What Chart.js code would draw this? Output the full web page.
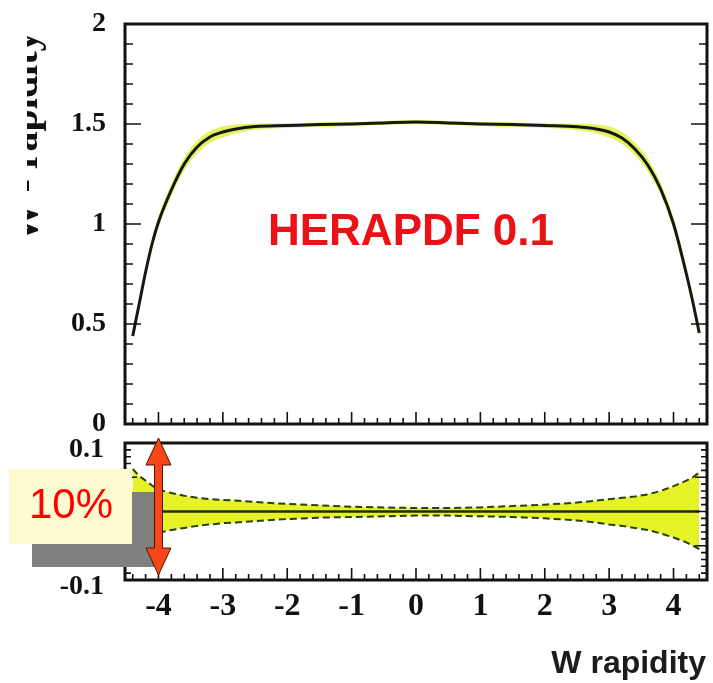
<!DOCTYPE html>
<html>
<head>
<meta charset="utf-8">
<script src="https://cdn.jsdelivr.net/npm/chart.js@4.4.1/dist/chart.umd.min.js"></script>
<style>
  html, body { margin: 0; padding: 0; background: #fff; }
  #wrap { position: relative; width: 713px; height: 683px; background: #fff; overflow: hidden; }
  #wrap canvas { position: absolute; left: 0; top: 0; }
</style>
</head>
<body>
<div id="wrap">
  <canvas id="main" width="713" height="683"></canvas>
  <canvas id="ratio" width="713" height="683"></canvas>
</div>
<script>
// W rapidity grid
const rapidity = [-4.4, -4.3, -4.2, -4.1, -4.0, -3.8, -3.6, -3.4, -3.2, -3.0, -2.8, -2.5, -2.0, -1.5, -1.0, -0.5,
                  0, 0.5, 1.0, 1.5, 2.0, 2.5, 2.8, 3.0, 3.2, 3.4, 3.6, 3.8, 4.0, 4.2, 4.3, 4.4];

// central prediction and its uncertainty band
const wCentral = [0.44, 0.60, 0.76, 0.90, 1.01, 1.17, 1.30, 1.385, 1.435, 1.46, 1.475, 1.487, 1.492, 1.497, 1.50, 1.505,
                  1.51, 1.505, 1.50, 1.497, 1.492, 1.486, 1.475, 1.46, 1.43, 1.375, 1.295, 1.175, 1.00, 0.75, 0.61, 0.455];
const wBandUp  = [0.46, 0.62, 0.782, 0.925, 1.038, 1.20, 1.332, 1.417, 1.465, 1.488, 1.497, 1.503, 1.504, 1.508, 1.51, 1.515,
                  1.52, 1.515, 1.51, 1.508, 1.504, 1.502, 1.497, 1.488, 1.46, 1.407, 1.327, 1.205, 1.028, 0.775, 0.632, 0.475];
const wBandLow = [0.42, 0.58, 0.738, 0.875, 0.982, 1.14, 1.268, 1.353, 1.405, 1.432, 1.453, 1.471, 1.48, 1.486, 1.49, 1.495,
                  1.50, 1.495, 1.49, 1.486, 1.48, 1.47, 1.453, 1.432, 1.40, 1.343, 1.263, 1.145, 0.972, 0.725, 0.588, 0.435];

// fractional uncertainty
const ratioUp  = [0.062, 0.052, 0.045, 0.038, 0.032, 0.027, 0.023, 0.020, 0.018, 0.017, 0.016, 0.014, 0.011, 0.009, 0.007, 0.006,
                  0.005, 0.005, 0.006, 0.008, 0.010, 0.013, 0.016, 0.018, 0.020, 0.022, 0.025, 0.030, 0.037, 0.045, 0.050, 0.057];
const ratioLow = [-0.060, -0.050, -0.043, -0.036, -0.031, -0.027, -0.024, -0.021, -0.019, -0.017, -0.016, -0.014, -0.011, -0.009, -0.008, -0.007,
                  -0.006, -0.006, -0.007, -0.008, -0.010, -0.013, -0.016, -0.019, -0.021, -0.024, -0.027, -0.032, -0.038, -0.045, -0.050, -0.055];
const ratioCentral = [0, 0, 0, 0, 0, 0, 0, 0, 0, 0, 0, 0, 0, 0, 0, 0,
                      0, 0, 0, 0, 0, 0, 0, 0, 0, 0, 0, 0, 0, 0, 0, 0];

// axis ticks
const xTickValues = [-4, -3, -2, -1, 0, 1, 2, 3, 4];
const xTickLabels = ['-4', '-3', '-2', '-1', '0', '1', '2', '3', '4'];
const mainTickValues = [0, 0.5, 1, 1.5, 2];
const mainTickLabels = ['0', '0.5', '1', '1.5', '2'];
const ratioTickValues = [-0.1, -0.05, 0, 0.05, 0.1];
const ratioTickLabels = ['-0.1', '-0.05', '0', '0.05', '0.1'];

const pts = arr => rapidity.map((x, i) => ({ x, y: arr[i] }));

const X_MIN = -4.52, X_MAX = 4.52;
const SERIF = '"Liberation Serif", "DejaVu Serif", serif';
const SANS = '"Liberation Sans", Arial, sans-serif';

// inner tick marks and a heavy frame around the plot area
function framePlugin(yStep, yFrom, yTo, majorEvery, yMajorLen, yMinorLen) {
  return {
    id: 'frame',
    afterDraw(chart) {
      const { ctx, chartArea: a, scales: { x, y } } = chart;
      ctx.save();
      ctx.strokeStyle = '#111';
      ctx.lineWidth = 1.6;
      ctx.beginPath();
      for (let i = -23; i <= 23; i++) {
        const px = x.getPixelForValue(i * 0.2);
        if (px < a.left + 2 || px > a.right - 2) continue;
        const len = (i % 5 === 0) ? 12 : 6;
        ctx.moveTo(px, a.bottom);
        ctx.lineTo(px, a.bottom - len);
      }
      for (let i = yFrom; i <= yTo; i++) {
        const py = y.getPixelForValue(i * yStep);
        if (py < a.top + 2 || py > a.bottom - 2) continue;
        const len = (i % majorEvery === 0) ? yMajorLen : yMinorLen;
        ctx.moveTo(a.left, py); ctx.lineTo(a.left + len, py);
        ctx.moveTo(a.right, py); ctx.lineTo(a.right - len, py);
      }
      ctx.stroke();
      ctx.lineWidth = 3;
      ctx.strokeRect(a.left, a.top, a.right - a.left, a.bottom - a.top);
      ctx.restore();
    }
  };
}

const mainDecor = {
  id: 'mainDecor',
  afterDraw(chart) {
    const { ctx } = chart;
    ctx.save();
    ctx.fillStyle = 'rgb(234,18,22)';
    ctx.font = 'bold 44px ' + SANS;
    ctx.textAlign = 'center';
    ctx.textBaseline = 'alphabetic';
    ctx.fillText('HERAPDF 0.1', 411, 245);
    // vertical axis title, cut off by the left edge
    ctx.beginPath();
    ctx.rect(27, 0, 40, 300);
    ctx.clip();
    ctx.translate(37, 137);
    ctx.rotate(-Math.PI / 2);
    ctx.fillStyle = '#111';
    ctx.font = 'bold 40px ' + SERIF;
    ctx.fillText('W - rapidity', 0, 0);
    ctx.restore();
  }
};

const ratioDecor = {
  id: 'ratioDecor',
  afterDraw(chart) {
    const { ctx, scales: { x } } = chart;
    ctx.save();
    // "10%" note with its drop shadow
    ctx.fillStyle = '#808080';
    ctx.fillRect(32, 492, 123, 75);
    ctx.fillStyle = 'rgb(255,251,208)';
    ctx.fillRect(9, 469, 123, 75);
    ctx.fillStyle = '#ff0000';
    ctx.font = '42px ' + SANS;
    ctx.textAlign = 'center';
    ctx.textBaseline = 'alphabetic';
    ctx.fillText('10%', 71, 518);
    // double-headed arrow spanning the ratio panel
    const cx = x.getPixelForValue(-4);
    const top = 438, bot = 575, hh = 27, hw = 12.5, sw = 4;
    ctx.beginPath();
    ctx.moveTo(cx, top);
    ctx.lineTo(cx + hw, top + hh);
    ctx.lineTo(cx + sw, top + hh);
    ctx.lineTo(cx + sw, bot - hh);
    ctx.lineTo(cx + hw, bot - hh);
    ctx.lineTo(cx, bot);
    ctx.lineTo(cx - hw, bot - hh);
    ctx.lineTo(cx - sw, bot - hh);
    ctx.lineTo(cx - sw, top + hh);
    ctx.lineTo(cx - hw, top + hh);
    ctx.closePath();
    ctx.fillStyle = 'rgb(246,72,22)';
    ctx.fill();
    ctx.strokeStyle = '#4a1406';
    ctx.lineWidth = 1;
    ctx.stroke();
    // x axis title
    ctx.fillStyle = '#1c1c1c';
    ctx.font = 'bold 32px ' + SANS;
    ctx.textAlign = 'right';
    ctx.fillText('W rapidity', 706, 673);
    ctx.restore();
  }
};

const common = {
  responsive: false,
  animation: false,
  devicePixelRatio: 1,
  plugins: { legend: { display: false }, tooltip: { enabled: false } },
  elements: { point: { radius: 0 } }
};

const fixY = s => { s.width = 125; s.paddingTop = 0; s.paddingBottom = 0; };

new Chart(document.getElementById('main'), {
  type: 'line',
  data: {
    datasets: [
      { data: pts(wBandUp), borderWidth: 0, backgroundColor: 'rgba(222,240,60,0.8)', fill: '+1',
        cubicInterpolationMode: 'monotone', order: 2 },
      { data: pts(wBandLow), borderWidth: 0, fill: false, cubicInterpolationMode: 'monotone', order: 3 },
      { data: pts(wCentral), borderColor: '#151a0e', borderWidth: 3, fill: false,
        cubicInterpolationMode: 'monotone', order: 0 }
    ]
  },
  options: {
    ...common,
    layout: { padding: { left: 0, right: 6, top: 24, bottom: 259 } },
    scales: {
      x: {
        type: 'linear', min: X_MIN, max: X_MAX,
        grid: { display: false }, border: { display: false },
        ticks: { display: false },
        afterFit: s => { s.height = 0; s.paddingLeft = 0; s.paddingRight = 0; }
      },
      y: {
        min: 0, max: 2,
        grid: { display: false, drawTicks: false }, border: { display: false },
        afterBuildTicks: s => { s.ticks = mainTickValues.map(v => ({ value: v })); },
        ticks: {
          padding: 19, color: '#111',
          font: { family: SERIF, size: 28, weight: 'bold' },
          callback: (v, i) => mainTickLabels[i]
        },
        afterFit: fixY
      }
    }
  },
  plugins: [framePlugin(0.1, 0, 20, 5, 16, 8), mainDecor]
});

new Chart(document.getElementById('ratio'), {
  type: 'line',
  data: {
    datasets: [
      { data: pts(ratioUp), borderColor: '#2a3f0a', borderWidth: 2, borderDash: [7, 4],
        backgroundColor: 'rgb(230,242,40)', fill: '+1', order: 2 },
      { data: pts(ratioLow), borderColor: '#2a3f0a', borderWidth: 2, borderDash: [7, 4], fill: false, order: 1 },
      { data: pts(ratioCentral), borderColor: '#1e2a0c', borderWidth: 2.5, fill: false, order: 0 }
    ]
  },
  options: {
    ...common,
    layout: { padding: { left: 0, right: 6, top: 443, bottom: 0 } },
    scales: {
      x: {
        type: 'linear', min: X_MIN, max: X_MAX,
        grid: { display: false, drawTicks: false }, border: { display: false },
        afterBuildTicks: s => { s.ticks = xTickValues.map(v => ({ value: v })); },
        ticks: {
          padding: 8, color: '#111', maxRotation: 0,
          font: { family: SERIF, size: 32, weight: 'bold' },
          callback: (v, i) => xTickLabels[i]
        },
        afterFit: s => { s.height = 103; s.paddingLeft = 0; s.paddingRight = 0; }
      },
      y: {
        min: -0.1, max: 0.1,
        grid: { display: false, drawTicks: false }, border: { display: false },
        afterBuildTicks: s => { s.ticks = ratioTickValues.map(v => ({ value: v })); },
        ticks: {
          padding: 21, color: '#111', labelOffset: 7,
          font: { family: SERIF, size: 28, weight: 'bold' },
          callback: (v, i) => ratioTickLabels[i]
        },
        afterFit: fixY
      }
    }
  },
  plugins: [framePlugin(0.01, -10, 10, 5, 12, 6), ratioDecor]
});
</script>
</body>
</html>
